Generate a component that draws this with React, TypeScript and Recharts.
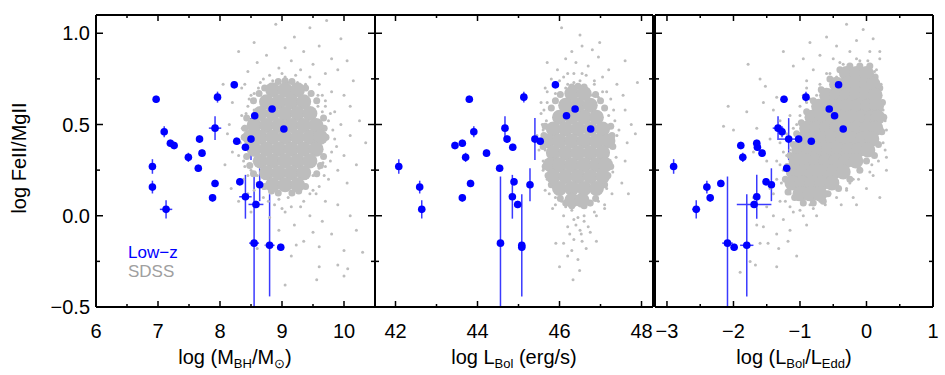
import { ScatterChart, Scatter, XAxis, YAxis, ErrorBar } from 'recharts'

// ---- Low-z sample (same object order in every array) ----
const lowzFeMg = [0.638, 0.27, 0.157, 0.035, 0.46, 0.397, 0.385, 0.32, 0.42, 0.42, 0.343, 0.26, 0.48, 0.65, 0.177, 0.098, 0.718, 0.408, 0.375, 0.548, 0.186, 0.104, 0.062, -0.15, 0.17, -0.162, -0.173, 0.585, 0.475]
const lowzFeMgErr = [[0.02, 0.02], [0.04, 0.04], [0.035, 0.035], [0.05, 0.05], [0.03, 0.03], [0.02, 0.02], [0.02, 0.02], [0.025, 0.025], [0.02, 0.02], [0.115, 0.115], [0.02, 0.02], [0.02, 0.02], [0.065, 0.065], [0.03, 0.03], [0.02, 0.02], [0.02, 0.02], [0.02, 0.02], [0.02, 0.02], [0.02, 0.02], [0.03, 0.03], [0.02, 0.02], [0.12, 0.12], [0.02, 0.02], [0.35, 0.365], [0.09, 0.09], [0.28, 0.28], [0.02, 0.02], [0.035, 0.035], [0.025, 0.025]]

const lowzMbh = [6.97, 6.91, 6.91, 7.13, 7.1, 7.2, 7.26, 7.49, 7.67, 8.5, 7.71, 7.65, 7.92, 7.96, 7.92, 7.88, 8.23, 8.27, 8.41, 8.56, 8.32, 8.41, 8.58, 8.55, 8.64, 8.8, 8.98, 8.84, 9.03]
const lowzMbhErr = [0.05, 0.05, 0.05, 0.1, 0.05, 0.05, 0.05, 0.05, 0.05, 0.1, 0.05, 0.05, 0.1, 0.05, 0.05, 0.05, 0.05, 0.05, 0.05, 0.05, 0.05, 0.1, 0.12, 0.08, 0.05, 0.08, 0.05, 0.05, 0.05]

const lowzLbol = [43.8, 42.08, 42.59, 42.64, 43.91, 43.63, 43.45, 43.71, 44.72, 45.4, 44.22, 44.54, 44.67, 45.13, 43.83, 43.63, 45.9, 45.53, 44.86, 46.17, 44.89, 44.85, 44.98, 44.56, 45.28, 45.08, 45.08, 46.38, 46.76]
const lowzLbolErr = [0.06, 0.06, 0.06, 0.06, 0.06, 0.06, 0.06, 0.06, 0.06, 0.06, 0.06, 0.06, 0.06, 0.06, 0.06, 0.06, 0.06, 0.06, 0.06, 0.06, 0.06, 0.06, 0.06, 0.06, 0.06, 0.06, 0.06, 0.06, 0.06]

const lowzEdd = [-1.24, -2.9, -2.4, -2.56, -1.27, -1.65, -1.89, -1.86, -1.02, -1.17, -1.57, -1.2, -1.33, -0.91, -2.19, -2.35, -0.42, -0.83, -1.64, -0.48, -1.51, -1.65, -1.69, -2.09, -1.43, -1.8, -1.99, -0.56, -0.35]
const lowzEddErr = [0.05, 0.05, 0.05, 0.06, 0.05, 0.05, 0.05, 0.05, 0.05, 0.15, 0.05, 0.05, 0.08, 0.05, 0.05, 0.05, 0.05, 0.08, 0.05, 0.05, 0.05, 0.05, 0.26, 0.08, 0.05, 0.1, 0.05, 0.05, 0.05]

// ---- SDSS comparison sample: dense core (solid area), its fuzzy edge, surrounding points ----
const sdssMbhCore = [
  [8.85, 0.69], [9.05, 0.69], [9.25, 0.69],
  [8.75, 0.625], [8.95, 0.625], [9.15, 0.625], [9.35, 0.625],
  [8.65, 0.56], [8.85, 0.56], [9.05, 0.56], [9.25, 0.56], [9.45, 0.56],
  [8.55, 0.495], [8.75, 0.495], [8.95, 0.495], [9.15, 0.495], [9.35, 0.495], [9.55, 0.495],
  [8.48, 0.43], [8.65, 0.43], [8.85, 0.43], [9.05, 0.43], [9.25, 0.43], [9.45, 0.43], [9.62, 0.43],
  [8.55, 0.365], [8.75, 0.365], [8.95, 0.365], [9.15, 0.365], [9.35, 0.365], [9.55, 0.365],
  [8.65, 0.3], [8.85, 0.3], [9.05, 0.3], [9.25, 0.3], [9.45, 0.3],
  [8.75, 0.235], [8.95, 0.235], [9.15, 0.235], [9.35, 0.235],
  [8.85, 0.17], [9.05, 0.17], [9.25, 0.17],
]
const sdssMbhEdge = [
  [9.71, 0.43], [9.67, 0.536], [9.56, 0.63], [9.38, 0.7], [9.16, 0.735], [8.94, 0.735], [8.72, 0.7], [8.54, 0.63], [8.43, 0.536],
  [8.39, 0.43], [8.43, 0.324], [8.54, 0.23], [8.72, 0.16], [8.94, 0.125], [9.16, 0.125], [9.38, 0.16], [9.56, 0.23], [9.67, 0.324],
  [9.68, 0.48], [9.47, 0.67], [9.05, 0.74], [8.63, 0.67], [8.4, 0.48], [8.48, 0.275], [8.83, 0.135], [9.27, 0.135], [9.62, 0.275],
]
const sdssMbh = [
  [8.9, 1.05], [9.45, 1.03], [9.72, 1.07], [9.2, 0.98], [8.55, 0.95], [9.6, 0.93], [9.95, 0.97], [8.3, 0.9], [9.05, 0.92], [9.35, 0.9],
  [8.75, 0.88], [9.8, 0.86], [10.05, 0.85], [8.6, 0.84], [9.15, 0.85], [9.5, 0.83], [8.95, 0.81], [9.3, 0.8], [8.45, 0.79], [9.7, 0.78],
  [9.9, 0.8], [8.8, 0.77], [9.05, 0.76], [9.45, 0.76], [8.65, 0.73], [9.25, 0.73], [9.6, 0.72], [10.15, 0.74], [8.35, 0.7], [8.95, 0.7],
  [9.4, 0.69], [9.8, 0.68], [8.55, 0.67], [9.15, 0.67], [9.65, 0.66], [10.0, 0.66], [8.05, 0.72],
  [8.2, 0.62], [8.45, 0.6], [8.35, 0.55], [8.55, 0.58], [8.15, 0.5], [8.4, 0.49], [8.25, 0.42], [8.45, 0.38], [8.3, 0.33],
  [8.55, 0.3], [8.4, 0.27], [8.6, 0.22], [8.2, 0.35], [8.12, 0.45], [8.08, 0.28], [8.18, 0.15], [8.38, 0.2],
  [9.7, 0.6], [9.85, 0.57], [10.1, 0.6], [9.75, 0.52], [9.95, 0.5], [10.25, 0.52], [9.7, 0.44],
  [9.85, 0.42], [10.1, 0.44], [10.35, 0.4], [9.8, 0.35], [10.0, 0.33], [9.7, 0.27], [9.9, 0.25], [10.2, 0.28],
  [9.5, 0.22], [9.75, 0.2], [10.05, 0.18],
  [8.4, 0.72], [8.5, 0.66], [8.62, 0.7], [8.7, 0.75], [8.85, 0.74], [9.0, 0.78], [9.1, 0.73], [9.22, 0.77], [9.38, 0.72], [9.48, 0.68],
  [9.58, 0.66], [9.7, 0.63], [9.78, 0.56], [9.82, 0.47], [9.88, 0.38], [9.78, 0.3], [9.68, 0.22], [9.6, 0.16], [9.5, 0.14], [9.35, 0.08],
  [9.15, 0.05], [9.0, 0.04], [8.88, 0.06], [8.7, 0.1], [8.55, 0.14], [8.45, 0.22], [8.38, 0.3], [8.33, 0.4], [8.36, 0.48], [8.42, 0.56],
  [8.47, 0.64], [8.95, 0.73], [9.3, 0.69], [9.65, 0.57], [9.72, 0.43], [9.66, 0.29], [8.6, 0.18], [9.45, 0.12], [8.78, 0.08], [9.58, 0.6],
  [8.66, 0.16], [9.55, 0.22], [9.6, 0.26], [8.5, 0.25],
  [8.7, 0.15], [9.4, 0.16], [9.55, 0.12], [8.95, 0.09], [9.1, 0.1], [9.7, 0.08], [8.6, 0.06], [9.3, 0.05], [9.9, 0.06], [9.05, 0.02],
  [9.45, 0.0], [8.8, -0.01], [9.65, -0.03], [10.1, 0.0], [9.2, -0.05], [8.95, -0.08], [9.5, -0.09], [9.8, -0.1], [10.2, -0.08], [9.35, -0.14],
  [8.75, -0.16], [9.23, -0.16], [9.6, -0.17], [10.0, -0.19], [9.15, -0.22], [9.9, -0.27], [8.6, -0.18], [10.3, -0.2], [9.6, -0.28], [9.56, -0.35],
  [10.06, -0.29], [10.0, -0.33], [9.05, -0.38], [8.95, -0.18], [8.3, 0.08], [8.45, 0.12], [8.5, 0.02],
]

const sdssLbolCore = [
  [46.3, 0.67], [46.6, 0.67],
  [46.15, 0.605], [46.45, 0.605], [46.75, 0.605],
  [46.0, 0.54], [46.3, 0.54], [46.6, 0.54], [46.9, 0.54],
  [45.85, 0.475], [46.15, 0.475], [46.45, 0.475], [46.75, 0.475], [47.05, 0.475],
  [45.72, 0.41], [46.0, 0.41], [46.3, 0.41], [46.6, 0.41], [46.9, 0.41], [47.18, 0.41],
  [45.85, 0.345], [46.15, 0.345], [46.45, 0.345], [46.75, 0.345], [47.05, 0.345],
  [45.78, 0.28], [46.0, 0.28], [46.3, 0.28], [46.6, 0.28], [46.9, 0.28], [47.12, 0.28],
  [45.85, 0.215], [46.15, 0.215], [46.45, 0.215], [46.75, 0.215], [47.05, 0.215],
  [46.0, 0.15], [46.3, 0.15], [46.6, 0.15], [46.9, 0.15],
  [46.3, 0.085], [46.55, 0.085],
]
const sdssLbolEdge = [
  [47.3, 0.38], [47.25, 0.49], [47.1, 0.59], [46.88, 0.665], [46.6, 0.705], [46.3, 0.705], [46.02, 0.665], [45.8, 0.59], [45.65, 0.49],
  [45.6, 0.38], [45.65, 0.27], [45.8, 0.17], [46.02, 0.095], [46.3, 0.055], [46.6, 0.055], [46.88, 0.095], [47.1, 0.17], [47.25, 0.27],
  [47.28, 0.44], [47.0, 0.63], [46.45, 0.71], [45.9, 0.63], [45.62, 0.44], [45.72, 0.22], [46.15, 0.07], [46.75, 0.07], [47.18, 0.22],
]
const sdssLbol = [
  [46.05, 1.03], [46.5, 0.99], [46.98, 0.95], [46.55, 0.93], [46.3, 0.9], [46.8, 0.91], [45.7, 0.84], [47.6, 0.85], [46.15, 0.86], [46.95, 0.87],
  [46.4, 0.84], [45.95, 0.8], [46.7, 0.82], [47.2, 0.8], [46.2, 0.78], [46.55, 0.78], [47.05, 0.76], [45.8, 0.75], [47.9, 0.73], [46.0, 0.74],
  [46.35, 0.73], [46.85, 0.74], [47.4, 0.72], [45.65, 0.7], [46.15, 0.7], [46.6, 0.69], [47.15, 0.68], [47.55, 0.66], [45.9, 0.67], [46.95, 0.65],
  [45.55, 0.56], [45.6, 0.47], [45.5, 0.36], [45.6, 0.25], [45.65, 0.14], [45.45, 0.44],
  [47.6, 0.58], [47.45, 0.47], [47.75, 0.5], [47.65, 0.4], [47.6, 0.3], [47.52, 0.18], [47.68, 0.12], [47.85, 0.45],
  [45.55, 0.62], [45.7, 0.68], [45.9, 0.72], [46.1, 0.76], [46.35, 0.78], [46.65, 0.77], [46.85, 0.72], [47.05, 0.68], [47.25, 0.64], [47.35, 0.52],
  [47.4, 0.44], [47.38, 0.32], [47.3, 0.24], [47.28, 0.12], [47.1, 0.06], [46.85, 0.02], [46.6, 0.0], [46.35, -0.02], [46.1, 0.0], [45.9, 0.1],
  [45.7, 0.2], [45.6, 0.3], [45.55, 0.4], [45.58, 0.5], [45.62, 0.58], [46.2, 0.72], [46.8, 0.66], [47.25, 0.42], [46.05, 0.08], [46.4, -0.05],
  [46.7, -0.06], [46.55, -0.14], [46.25, -0.1], [45.65, 0.36], [47.32, 0.58], [46.5, 0.74], [45.7, 0.62], [47.2, 0.55], [47.22, 0.3], [47.15, 0.15],
  [45.75, 0.12], [45.68, 0.52],
  [46.0, 0.12], [45.9, 0.06], [45.83, 0.04], [46.15, 0.05], [46.3, 0.03], [46.75, 0.06], [46.95, 0.08], [47.1, 0.04], [46.45, -0.01], [46.6, -0.03],
  [46.9, 0.0], [46.2, -0.06], [46.5, -0.08], [46.75, -0.09], [46.53, -0.1], [46.35, -0.13], [45.91, -0.15], [46.1, -0.15], [46.3, -0.19], [46.65, -0.18],
  [46.45, -0.24], [46.0, -0.28], [46.49, -0.3], [46.33, -0.35], [46.2, -0.22], [46.9, -0.14],
]

const sdssEddCore = [
  [-0.3, 0.78], [-0.15, 0.78], [0.0, 0.78],
  [-0.45, 0.72], [-0.3, 0.72], [-0.15, 0.72], [0.0, 0.72], [0.1, 0.72],
  [-0.6, 0.66], [-0.45, 0.66], [-0.3, 0.66], [-0.15, 0.66], [0.0, 0.66], [0.13, 0.66],
  [-0.72, 0.6], [-0.58, 0.6], [-0.43, 0.6], [-0.28, 0.6], [-0.13, 0.6], [0.02, 0.6], [0.15, 0.6],
  [-0.82, 0.54], [-0.67, 0.54], [-0.52, 0.54], [-0.37, 0.54], [-0.22, 0.54], [-0.07, 0.54], [0.08, 0.54], [0.17, 0.54],
  [-0.9, 0.48], [-0.75, 0.48], [-0.6, 0.48], [-0.45, 0.48], [-0.3, 0.48], [-0.15, 0.48], [0.0, 0.48], [0.14, 0.48],
  [-0.96, 0.42], [-0.81, 0.42], [-0.66, 0.42], [-0.51, 0.42], [-0.36, 0.42], [-0.21, 0.42], [-0.06, 0.42], [0.08, 0.42],
  [-1.02, 0.36], [-0.87, 0.36], [-0.72, 0.36], [-0.57, 0.36], [-0.42, 0.36], [-0.27, 0.36], [-0.12, 0.36], [0.02, 0.36],
  [-1.06, 0.3], [-0.91, 0.3], [-0.76, 0.3], [-0.61, 0.3], [-0.46, 0.3], [-0.31, 0.3], [-0.16, 0.3],
  [-1.1, 0.24], [-0.95, 0.24], [-0.8, 0.24], [-0.65, 0.24], [-0.5, 0.24], [-0.35, 0.24],
  [-1.12, 0.18], [-0.97, 0.18], [-0.82, 0.18], [-0.67, 0.18], [-0.52, 0.18],
  [-1.0, 0.12], [-0.85, 0.12], [-0.7, 0.12],
]
const sdssEddEdge = [
  [-1.22, 0.2], [-1.19, 0.27], [-1.15, 0.33], [-1.1, 0.39], [-1.05, 0.45], [-0.98, 0.51], [-0.9, 0.57], [-0.8, 0.63], [-0.68, 0.69], [-0.55, 0.75],
  [-0.4, 0.8], [-0.25, 0.82], [-0.1, 0.82], [0.05, 0.82], [0.13, 0.76], [0.2, 0.7], [0.24, 0.62], [0.26, 0.54], [0.23, 0.46], [0.18, 0.39],
  [0.12, 0.33], [0.0, 0.3], [-0.1, 0.25], [-0.25, 0.2], [-0.42, 0.15], [-0.58, 0.12], [-0.65, 0.08], [-0.8, 0.07], [-0.95, 0.07], [-1.08, 0.1], [-1.18, 0.13],
]
const sdssEdd = [
  [-0.3, 1.05], [-0.05, 1.02], [-0.6, 0.98], [-0.15, 0.96], [0.1, 0.97], [-0.45, 0.93], [-0.85, 0.95], [-0.25, 0.9], [0.05, 0.9], [-0.7, 0.88],
  [-0.5, 0.86], [-0.1, 0.85], [0.2, 0.86], [-0.95, 0.86], [-0.35, 0.83], [-0.8, 0.8], [-0.6, 0.78], [0.12, 0.79], [-0.2, 0.8], [-1.1, 0.82],
  [-0.45, 0.76], [-0.7, 0.72], [-0.9, 0.7], [-1.25, 0.9],
  [0.25, 0.58], [0.3, 0.47], [0.28, 0.36], [0.3, 0.32], [-0.1, 0.26], [0.1, 0.22],
  [-0.2, 0.2], [0.0, 0.15], [-0.3, 0.15], [0.2, 0.1], [-0.15, 0.06],
  [-1.0, 0.6], [-1.15, 0.55], [-0.9, 0.62], [-1.05, 0.5], [-1.3, 0.52], [-1.2, 0.45], [-1.4, 0.58], [-1.55, 0.62], [-1.3, 0.4], [-1.45, 0.42],
  [-1.2, 0.33], [-1.65, 0.48], [-1.5, 0.3], [-1.8, 0.57], [-2.08, 0.6], [-2.15, 0.49], [-2.0, 0.47], [-1.78, 0.83], [-1.52, 0.71], [-1.7, 0.35],
  [-1.6, 0.75], [-1.35, 0.65],
  [-1.25, 0.35], [-1.3, 0.28], [-1.28, 0.18], [-1.22, 0.08], [-1.1, 0.02], [-0.95, 0.0], [-0.8, 0.04], [-0.62, 0.06], [-0.45, 0.1], [-0.3, 0.14],
  [-0.12, 0.2], [0.05, 0.24], [0.18, 0.3], [0.25, 0.4], [0.28, 0.52], [0.25, 0.62], [0.22, 0.72], [0.15, 0.8], [0.02, 0.85], [-0.15, 0.86],
  [-0.4, 0.84], [-0.55, 0.78], [-0.7, 0.7], [-0.85, 0.64], [-1.0, 0.55], [-1.1, 0.48], [-1.18, 0.42], [-1.35, 0.3], [-0.38, 0.06], [-0.2, 0.1],
  [0.3, 0.25], [-0.9, 0.74], [0.2, 0.9], [-1.4, 0.12], [-1.15, 0.36], [-1.2, 0.28], [-1.22, 0.2], [-1.15, 0.12], [-0.85, 0.06], [-0.55, 0.12],
  [-0.75, 0.66], [-0.95, 0.66], [-1.05, 0.44], [-0.25, 0.18], [0.08, 0.28],
  [-1.25, 0.25], [-1.35, 0.2], [-1.45, 0.15], [-1.3, 0.08], [-1.15, 0.05], [-1.5, 0.05], [-1.4, 0.0], [-1.25, -0.02], [-1.0, 0.03],
  [-0.7, 0.08], [-1.55, -0.06], [-1.35, -0.1], [-1.15, -0.08], [-0.9, -0.05], [-1.6, -0.15], [-1.48, -0.15], [-1.32, -0.18], [-1.18, -0.14],
  [-1.75, -0.25], [-1.67, -0.27], [-1.35, -0.28], [-1.05, -0.22], [-1.7, 0.1], [-1.65, -0.05], [-0.75, 0.0], [-1.9, -0.31],
]

// ---- axes ----
const yDomain: [number, number] = [-0.5, 1.1]
const yTicks = [-0.5, -0.25, 0, 0.25, 0.5, 0.75, 1.0]
const yLabels = [-0.5, 0, 0.5, 1.0]

const mbhTicks = [6, 6.5, 7, 7.5, 8, 8.5, 9, 9.5, 10]
const mbhLabels = [6, 7, 8, 9, 10]
const lbolTicks = [42, 43, 44, 45, 46, 47, 48]
const lbolLabels = [42, 44, 46, 48]
const eddTicks = [-3, -2.5, -2, -1.5, -1, -0.5, 0, 0.5, 1]
const eddLabels = [-3, -2, -1, 0, 1]

const BLUE = '#0000ff'
const GRAY = '#bdbdbd'
const FONT = '"Liberation Sans", Arial, sans-serif'

const minus = (s: string) => s.replace('-', '\u2212')

const tickLine = { stroke: '#000', strokeWidth: 1.5 }
const axisLine = { stroke: '#000', strokeWidth: 2 }

const bottomTick = (labels: number[]) => (p: any) => {
  const v = p.payload.value
  const major = labels.includes(v)
  return (
    <g>
      <line x1={p.x} x2={p.x} y1={p.y} y2={p.y - (major ? 6 : 3)} {...tickLine} />
      {major && (
        <text x={p.x} y={p.y + 31} textAnchor="middle" fontSize={20} fontFamily={FONT} fill="#000">
          {minus(String(v))}
        </text>
      )}
    </g>
  )
}
const topTick = (labels: number[]) => (p: any) => {
  const major = labels.includes(p.payload.value)
  return <line x1={p.x} x2={p.x} y1={p.y} y2={p.y + (major ? 6 : 3)} {...tickLine} />
}
const leftTick = (showText: boolean) => (p: any) => {
  const v = p.payload.value
  const major = yLabels.includes(v)
  return (
    <g>
      <line x1={p.x} x2={p.x + (major ? 7 : 4)} y1={p.y} y2={p.y} {...tickLine} />
      {showText && major && (
        <text x={p.x - 6} y={p.y + 7} textAnchor="end" fontSize={20} fontFamily={FONT} fill="#000">
          {minus(v.toFixed(1))}
        </text>
      )}
    </g>
  )
}
const rightTick = (p: any) => {
  const major = yLabels.includes(p.payload.value)
  return <line x1={p.x} x2={p.x - (major ? 7 : 4)} y1={p.y} y2={p.y} {...tickLine} />
}

const dot = (r: number, fill: string) => (p: any) => <circle cx={p.cx} cy={p.cy} r={r} fill={fill} />

type PanelProps = {
  left: number
  width: number
  margin: { top: number; right: number; bottom: number; left: number }
  xDomain: [number, number]
  xTicks: number[]
  xLabels: number[]
  lowzX: number[]
  lowzXErr: number[]
  core: number[][]
  edge: number[][]
  cloud: number[][]
  yText: boolean
}

const toXY = (pts: number[][]) => pts.map(([x, y]) => ({ x, y }))

function Panel({ left, width, margin, xDomain, xTicks, xLabels, lowzX, lowzXErr, core, edge, cloud, yText }: PanelProps) {
  const lowz = lowzX.map((x, i) => ({ x, y: lowzFeMg[i], ex: lowzXErr[i], ey: lowzFeMgErr[i] }))
  return (
    <div style={{ position: 'absolute', left, top: 0 }}>
      <ScatterChart width={width} height={375} margin={margin}>
        <XAxis xAxisId="b" type="number" dataKey="x" domain={xDomain} allowDataOverflow ticks={xTicks} interval={0}
          height={1} tickSize={0} tickMargin={0} axisLine={axisLine} tickLine={false} tick={bottomTick(xLabels)} />
        <XAxis xAxisId="t" orientation="top" type="number" dataKey="x" domain={xDomain} allowDataOverflow ticks={xTicks} interval={0}
          height={1} tickSize={0} tickMargin={0} axisLine={axisLine} tickLine={false} tick={topTick(xLabels)} />
        <YAxis yAxisId="l" type="number" dataKey="y" domain={yDomain} allowDataOverflow ticks={yTicks} interval={0}
          width={1} tickSize={0} tickMargin={0} axisLine={axisLine} tickLine={false} tick={leftTick(yText)} />
        <YAxis yAxisId="r" orientation="right" type="number" dataKey="y" domain={yDomain} allowDataOverflow ticks={yTicks} interval={0}
          width={1} tickSize={0} tickMargin={0} axisLine={axisLine} tickLine={false} tick={rightTick} />
        <Scatter xAxisId="b" yAxisId="l" data={toXY(cloud)} shape={dot(1.5, GRAY)} isAnimationActive={false} />
        <Scatter xAxisId="b" yAxisId="l" data={toXY(edge)} shape={dot(3.5, GRAY)} isAnimationActive={false} />
        <Scatter xAxisId="b" yAxisId="l" data={toXY(core)} shape={dot(7.5, GRAY)} isAnimationActive={false} />
        <Scatter xAxisId="b" yAxisId="l" data={lowz} shape={dot(3.8, BLUE)} isAnimationActive={false}>
          <ErrorBar dataKey="ey" direction="y" width={0} stroke="#3a3aff" strokeWidth={1.5} />
          <ErrorBar dataKey="ex" direction="x" width={0} stroke="#3a3aff" strokeWidth={1.5} />
        </Scatter>
      </ScatterChart>
    </div>
  )
}

export default function App() {
  return (
    <div style={{ position: 'absolute', left: 0, top: 0, width: 945, height: 375, background: '#fff', fontFamily: FONT }}>
      <Panel left={0} width={380} margin={{ top: 14, right: 4, bottom: 67, left: 95 }}
        xDomain={[6, 10.5]} xTicks={mbhTicks} xLabels={mbhLabels}
        lowzX={lowzMbh} lowzXErr={lowzMbhErr} core={sdssMbhCore} edge={sdssMbhEdge} cloud={sdssMbh} yText />
      <Panel left={370} width={290} margin={{ top: 14, right: 6, bottom: 67, left: 4 }}
        xDomain={[41.5, 48.28]} xTicks={lbolTicks} xLabels={lbolLabels}
        lowzX={lowzLbol} lowzXErr={lowzLbolErr} core={sdssLbolCore} edge={sdssLbolEdge} cloud={sdssLbol} yText={false} />
      <Panel left={645} width={300} margin={{ top: 14, right: 11, bottom: 67, left: 9 }}
        xDomain={[-3.18, 1]} xTicks={eddTicks} xLabels={eddLabels}
        lowzX={lowzEdd} lowzXErr={lowzEddErr} core={sdssEddCore} edge={sdssEddEdge} cloud={sdssEdd} yText={false} />
      <svg width={945} height={375} style={{ position: 'absolute', left: 0, top: 0, pointerEvents: 'none' }}>
        <g fontFamily={FONT} fontSize={20} fill="#000">
          <text transform="rotate(-90)" x={-158} y={26} textAnchor="middle">log FeII/MgII</text>
          <text x={235} y={364} textAnchor="middle">
            log (M<tspan fontSize={13} dy={4}>BH</tspan><tspan dy={-4}>/M</tspan><tspan fontSize={13} dy={4}>{'\u2299'}</tspan><tspan dy={-4}>)</tspan>
          </text>
          <text x={514} y={364} textAnchor="middle">
            log L<tspan fontSize={13} dy={4}>Bol</tspan><tspan dy={-4}> (erg/s)</tspan>
          </text>
          <text x={794} y={364} textAnchor="middle">
            log (L<tspan fontSize={13} dy={4}>Bol</tspan><tspan dy={-4}>/L</tspan><tspan fontSize={13} dy={4}>Edd</tspan><tspan dy={-4}>)</tspan>
          </text>
          <text x={128} y={258} fontSize={17} fill={BLUE}>Low{'\u2212'}z</text>
          <text x={128} y={277} fontSize={17} fill="#a0a0a0">SDSS</text>
        </g>
      </svg>
    </div>
  )
}
